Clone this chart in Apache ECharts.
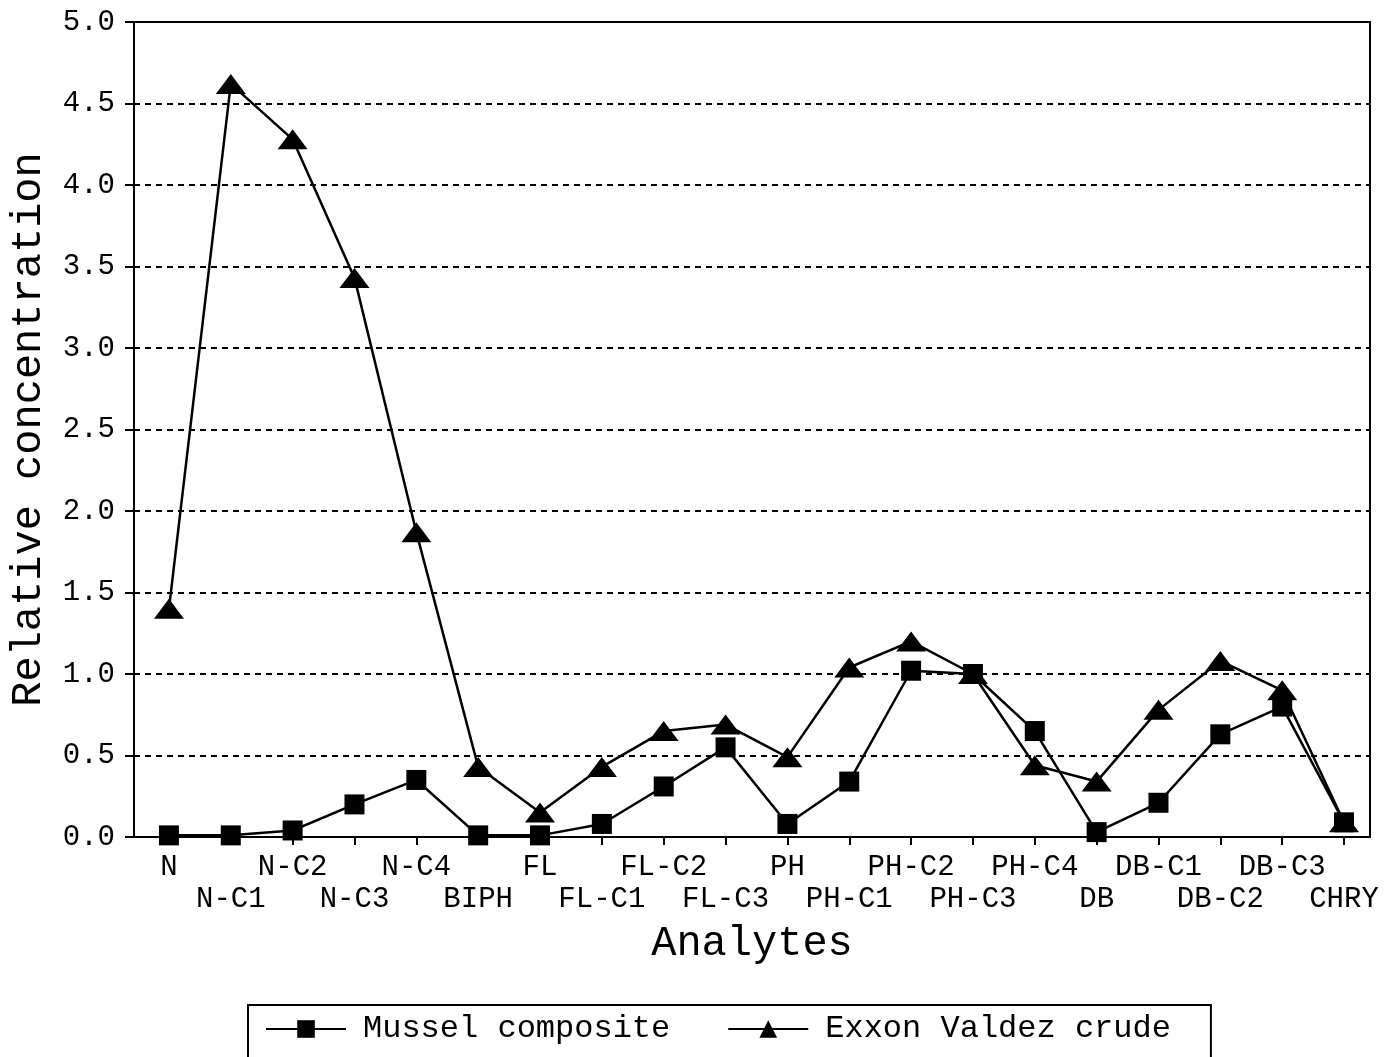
<!DOCTYPE html>
<html>
<head>
<meta charset="utf-8">
<script src="https://cdn.jsdelivr.net/npm/echarts@6/dist/echarts.min.js"></script>
<style>
html,body{margin:0;padding:0;background:#fff;}
#chart{width:1384px;height:1057px;}
</style>
</head>
<body>
<div id="chart"></div>
<script>
const categories = ['N','N-C1','N-C2','N-C3','N-C4','BIPH','FL','FL-C1','FL-C2','FL-C3','PH','PH-C1','PH-C2','PH-C3','PH-C4','DB','DB-C1','DB-C2','DB-C3','CHRY'];
const musselComposite = [0.01,0.01,0.04,0.20,0.35,0.01,0.01,0.08,0.31,0.55,0.08,0.34,1.02,1.00,0.65,0.03,0.21,0.63,0.80,0.09];
const exxonValdezCrude = [1.40,4.62,4.28,3.43,1.87,0.43,0.15,0.43,0.65,0.69,0.49,1.04,1.20,1.00,0.44,0.34,0.78,1.08,0.90,0.09];
const seriesNames = ['Mussel composite','Exxon Valdez crude'];

const FONT = '"Liberation Mono", "Courier New", "DejaVu Sans Mono", monospace';
const idx = categories.map((c, i) => i);
const evenIdx = idx.filter(i => i % 2 === 0);
const oddIdx = idx.filter(i => i % 2 === 1);
const toPairs = arr => arr.map((v, i) => [i, v]);
const catLabel = v => categories[Math.round(v)];

const xBase = {
  type: 'value', min: -0.565, max: 19.42, splitLine: {show: false}
};
const labelBase = {
  show: true, showMaxLabel: true, showMinLabel: true, hideOverlap: false,
  fontFamily: FONT, fontSize: 29, color: '#000', formatter: catLabel
};

const chart = echarts.init(document.getElementById('chart'), null, {renderer: 'canvas'});
chart.setOption({
  animation: false,
  backgroundColor: '#fff',
  grid: {left: 133, right: 14, top: 22, height: 815, show: true, borderColor: '#000', borderWidth: 2, backgroundColor: 'transparent'},
  xAxis: [
    Object.assign({}, xBase, {
      name: 'Analytes', nameLocation: 'middle', nameGap: 86,
      nameTextStyle: {fontFamily: FONT, fontSize: 42, color: '#000'},
      axisLine: {show: true, onZero: false, lineStyle: {color: '#000', width: 2}},
      axisTick: {show: true, customValues: idx, length: 8, lineStyle: {color: '#000', width: 2}},
      axisLabel: Object.assign({}, labelBase, {customValues: evenIdx, margin: 16})
    }),
    Object.assign({}, xBase, {
      position: 'bottom',
      axisLine: {show: false, onZero: false},
      axisTick: {show: false},
      axisLabel: Object.assign({}, labelBase, {customValues: oddIdx, margin: 48})
    })
  ],
  yAxis: {
    type: 'value', min: 0, max: 5, interval: 0.5,
    name: 'Relative concentration', nameLocation: 'middle', nameGap: 84,
    nameTextStyle: {fontFamily: FONT, fontSize: 42, color: '#000'},
    axisLine: {show: true, onZero: false, lineStyle: {color: '#000', width: 2}},
    axisTick: {show: true, length: 9, lineStyle: {color: '#000', width: 2}},
    axisLabel: {margin: 19, fontFamily: FONT, fontSize: 29, color: '#000', formatter: v => v.toFixed(1)},
    splitLine: {show: true, lineStyle: {color: '#000', width: 2, type: [6, 5]}}
  },
  legend: {
    left: 248, top: 1005,
    padding: [8, 40, 40, 17],
    borderColor: '#000', borderWidth: 2,
    itemWidth: 80, itemHeight: 22, itemGap: 57,
    textStyle: {fontFamily: FONT, fontSize: 32, color: '#000', padding: [0, 0, 0, 12]},
    data: seriesNames
  },
  series: [
    {
      name: seriesNames[0], type: 'line', data: toPairs(musselComposite), xAxisIndex: 0,
      symbol: 'rect', symbolSize: 20,
      lineStyle: {color: '#000', width: 2.5}, itemStyle: {color: '#000'}, z: 2
    },
    {
      name: seriesNames[1], type: 'line', data: toPairs(exxonValdezCrude), xAxisIndex: 0,
      symbol: 'triangle', symbolSize: [30, 20],
      lineStyle: {color: '#000', width: 2.5}, itemStyle: {color: '#000'}, z: 3
    }
  ]
});
</script>
</body>
</html>
